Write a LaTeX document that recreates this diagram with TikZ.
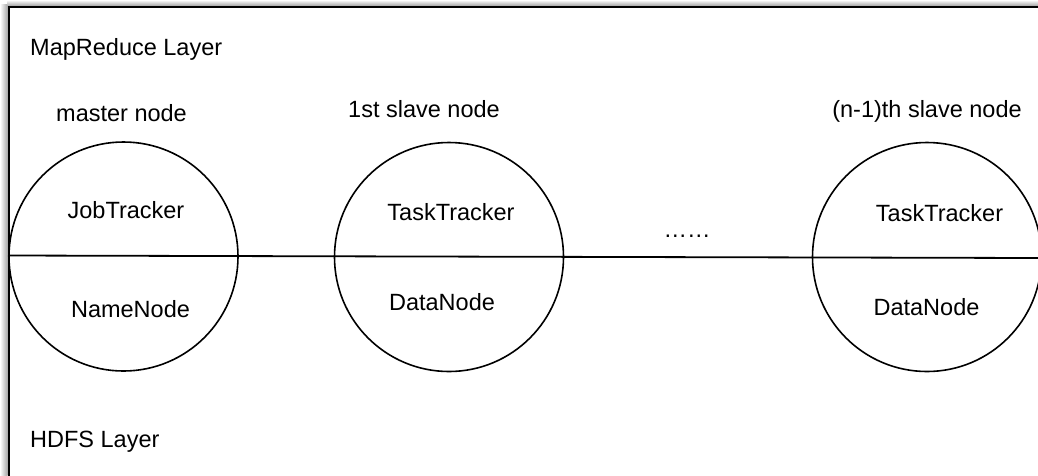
\documentclass[tikz,border=0pt]{standalone}
\usepackage{fontspec}
\setmainfont{Liberation Sans}
\begin{document}
\begin{tikzpicture}[x=1pt,y=-1pt,
  txt/.style={inner sep=0pt,anchor=base,font=\fontsize{23.5}{28}\selectfont},
  layertxt/.style={txt,anchor=base west},
  hnode/.style={circle,draw,line width=1.6pt,minimum size=229pt,inner sep=0pt},
  frame/.style={draw,line width=2.2pt},
  bus/.style={draw,line width=1.8pt}]
\useasboundingbox (0,0) rectangle (1038,475);
\begin{scope}
\clip (0,0) rectangle (1038,475);
% soft shadow along the left and top of the frame
\shade[left color=white,right color=black!35] (0,4) rectangle (7.5,475);
\shade[top color=white,bottom color=black!30] (7,0) rectangle (1038,5);
% outer frame (continues beyond the right and bottom edges)
\node[frame,anchor=north west,minimum width=1060pt,minimum height=500pt,inner sep=0pt]
  (box) at (8,5.5) {};
% layer labels
\node[layertxt] (mr) at (30,55) {MapReduce Layer};
\node[layertxt] (hdfs) at (30,447) {HDFS Layer};
% node titles
\node[txt] (tm) at (121.5,121) {master node};
\node[txt] (t1) at (424,117) {1st slave node};
\node[txt] (tn) at (927,117) {(n-1)th slave node};
% cluster machines
\node[hnode] (m) at (123.5,256.5) {};
\node[hnode] (s1) at (449,257) {};
\node[hnode] (sn) at (927,257) {};
% layer boundary
\coordinate (bl) at (8,255.5);
\coordinate (br) at (1040,258);
\draw[bus] (bl) -- (br);
% daemons
\node[txt] (jt) at (126,218) {JobTracker};
\node[txt] (nn) at (130.5,317) {NameNode};
\node[txt] (tt1) at (451,220) {TaskTracker};
\node[txt] (dn1) at (442,310) {DataNode};
\node[txt] (ttn) at (939.5,221) {TaskTracker};
\node[txt] (dnn) at (926.5,315) {DataNode};
\node[txt] (dots) at (687,237) {……};
\end{scope}
\end{tikzpicture}
\end{document}
